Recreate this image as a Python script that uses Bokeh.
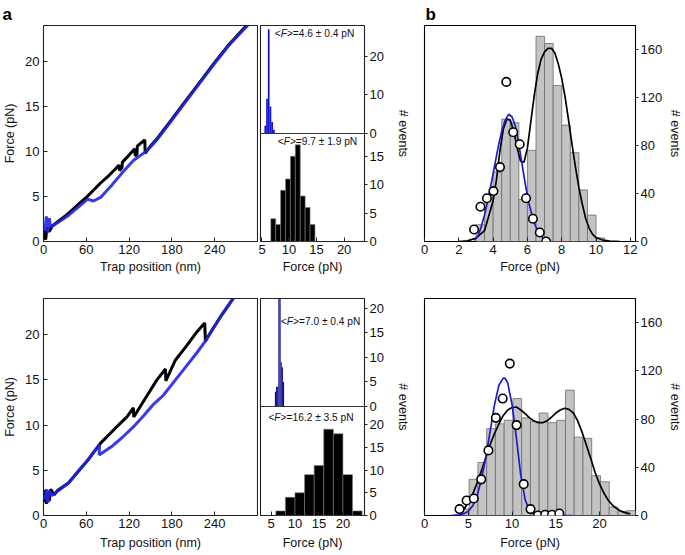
from bokeh.plotting import figure
from bokeh.layouts import row, column
from bokeh.models import Range1d, FixedTicker, Span, Label
from bokeh.embed import file_html
from bokeh.resources import INLINE

FONT = "Liberation Sans"

# ---------------- data ----------------
trace_xticks = [0, 60, 120, 180, 240]
trace_yticks = [0, 5, 10, 15, 20]

# top-row force-extension traces (trap position nm, force pN)
top_black_x = [0, 3, 5, 8, 12, 20, 30, 40, 50, 60, 70, 80, 90, 100, 106, 106.5, 110, 110.5, 120, 128, 128.5,
               131, 131.5, 142, 142.5, 150, 160, 180, 200, 220, 240, 260, 280, 292]
top_black_y = [1.3, 0.2, 1.6, 1.1, 1.7, 2.2, 2.8, 3.5, 4.2, 4.9, 5.7, 6.5, 7.2, 8.0, 8.5, 7.9, 8.2, 8.8, 9.6, 10.3, 9.5,
               9.7, 10.6, 11.3, 9.8, 10.6, 11.5, 13.6, 15.7, 17.8, 19.9, 21.9, 23.6, 24.6]
top_blue_x = [292, 280, 260, 240, 220, 200, 180, 160, 150, 142, 126, 110, 95, 80, 70, 62, 50, 35, 20, 10, 8, 6, 4, 2, 0]
top_blue_y = [24.5, 23.5, 21.8, 19.8, 17.7, 15.6, 13.5, 11.4, 10.5, 9.9, 9.0, 7.6, 6.2, 4.9, 4.5, 4.7, 3.9, 2.9, 2.1,
              1.6, 2.6, 1.0, 2.8, 1.2, 1.5]

# bottom-row force-extension traces
bot_black_x = [0, 2, 4, 6, 8, 10, 15, 20, 35, 50, 62, 80, 100, 117, 126, 126.5, 140, 159, 171, 171.5, 185, 200, 215,
               226, 227, 237, 250, 265, 272]
bot_black_y = [1.5, 2.8, 1.3, 2.6, 1.6, 2.9, 2.3, 2.8, 3.6, 5.0, 6.1, 8.0, 9.6, 10.9, 11.9, 10.9, 12.6, 15.0, 16.2,
               14.9, 17.2, 18.7, 20.3, 21.3, 19.3, 20.6, 22.2, 23.9, 24.6]
bot_blue_x = [272, 265, 250, 237, 228, 215, 200, 185, 168, 153, 140, 126, 110, 95, 78, 78.5, 70, 62, 50, 35, 20, 12,
              8, 6, 4, 2, 0]
bot_blue_y = [24.6, 23.9, 22.2, 20.6, 19.4, 18.0, 16.5, 15.0, 13.3, 12.2, 11.0, 9.8, 8.6, 7.6, 6.7, 7.8, 7.0, 6.1,
              5.0, 3.6, 2.7, 2.2, 2.8, 1.4, 2.9, 1.8, 2.2]

# small histograms of panel a
hist_xticks = [5, 10, 15, 20]
top_blue_edges = [3.8, 4.15, 4.5, 4.85, 5.2, 5.55, 5.9]
top_blue_counts = [2, 9, 27, 7, 3, 1]
top_blk_edges = [6.7, 7.59, 8.48, 9.37, 10.26, 11.15, 12.04, 12.93, 13.82, 14.71]
top_blk_counts = [4, 3, 9, 11, 15, 17, 8, 6, 3]
top_blk_ticks = [0, 5, 10, 15]
top_blue_ticks = [0, 10, 20]

bot_blue_edges = [5.8, 6.04, 6.28, 6.52, 6.76, 7.0, 7.24, 7.48, 7.72]
bot_blue_counts = [3, 4, 4, 22, 22, 9, 8, 5]
bot_blk_edges = [6, 8, 10, 12, 14, 16, 18, 20, 22, 24]
bot_blk_counts = [1, 4, 5, 9, 11, 19, 18, 9, 1]
bot_blk_ticks = [0, 5, 10, 15, 20]
bot_blue_ticks = [0, 5, 10, 15, 20]

# panel b
b_yticks = [0, 40, 80, 120, 160]
b_top_xticks = [0, 2, 4, 6, 8, 10, 12]
b_bot_xticks = [0, 5, 10, 15, 20]

b_top_edges = [3.0, 3.5, 4.0, 4.5, 5.0, 5.5, 6.0, 6.5, 7.0, 7.5, 8.0, 8.5, 9.0, 9.5, 10.0, 10.5]
b_top_counts = [14, 37, 58, 102, 99, 35, 76, 171, 165, 130, 97, 74, 43, 22, 3]
b_top_cx = [2.89, 3.26, 3.64, 4.02, 4.40, 4.77, 5.17, 5.55, 5.92, 6.32, 6.72, 7.09]
b_top_cy = [10, 29, 36, 42, 62, 133, 91, 81, 36, 19, 7.5, 0]
b_top_kx = [2.0, 2.5, 3.0, 3.5, 4.0, 4.2, 4.4, 4.6, 4.8, 5.0, 5.2, 5.4, 5.6, 5.8, 6.0, 6.2, 6.4, 6.6, 6.8, 7.0, 7.2,
            7.4, 7.6, 7.8, 8.0, 8.2, 8.4, 8.6, 8.8, 9.0, 9.2, 9.4, 9.6, 9.8, 10.0, 10.4, 10.8, 11.4]
b_top_ky = [0, 0.5, 2.8, 9, 34, 52, 76, 94, 102, 101, 92, 78, 67, 66, 78, 100, 122, 140, 152, 158, 161, 161, 157,
            148, 136, 120, 101, 81, 62, 45, 31, 19, 11, 6, 3.3, 1.2, 0.4, 0]
b_top_bx = [2.9, 3.1, 3.3, 3.5, 3.7, 3.9, 4.1, 4.3, 4.5, 4.7, 4.9, 5.1, 5.3, 5.5, 5.7, 5.9, 6.1, 6.3, 6.5, 6.7, 6.9, 7.1]
b_top_by = [1, 4, 12, 22, 35, 49, 64, 79, 92, 101, 106, 104, 96, 81, 63, 46, 31, 20, 12, 6.5, 3, 1]

b_bot_edges = [4.1, 5.1, 6.1, 7.1, 8.1, 9.1, 10.1, 11.1, 12.1, 13.1, 14.1, 15.1, 16.1, 17.1, 18.1, 19.1, 20.1, 21.1,
               22.1, 23.1, 24.1]
b_bot_counts = [5.5, 30, 44, 72, 76, 79, 97, 81, 78, 85, 77, 79, 104, 65, 64, 33, 28, 7, 3.5, 4]
b_bot_cx = [4.0, 4.81, 5.63, 6.48, 7.3, 8.15, 8.93, 9.74, 10.52, 11.33, 12.11, 12.96, 13.78, 14.56, 15.4]
b_bot_cy = [5.3, 12.5, 14.1, 30, 54, 81, 97, 126, 75, 26, 5.3, 0, 0.6, 0.6, 1.7]
b_bot_kx = [4.5, 5.0, 5.5, 6.0, 6.5, 7.0, 7.5, 8.0, 8.5, 9.0, 9.5, 10.0, 10.5, 11.0, 11.5, 12.0, 12.5, 13.0, 13.5,
            14.0, 14.5, 15.0, 15.5, 16.0, 16.5, 17.0, 17.5, 18.0, 18.5, 19.0, 19.5, 20.0, 20.5, 21.0, 21.5, 22.0,
            22.5, 23.0, 23.5]
b_bot_ky = [5, 11, 17.5, 27, 37, 48, 59, 68, 76, 83, 87.5, 89.5, 90, 87.5, 84.5, 81, 78.5, 77, 77, 78.5, 81.5, 85,
            87.5, 89, 88, 85, 78.5, 69, 58, 47, 35.5, 26, 18.5, 12.5, 8.3, 5.5, 3.4, 2.2, 1.4]
b_bot_bx = [3.0, 4.0, 4.5, 5.0, 5.5, 6.0, 6.5, 7.0, 7.5, 8.0, 8.5, 9.0, 9.2, 9.5, 10.0, 10.5, 11.0, 11.5, 12.0, 12.5,
            13.0, 14.0, 16.9]
b_bot_by = [0, 0.5, 1.5, 3.5, 8, 16, 30, 48, 70, 92, 108, 114, 114, 110, 92, 64, 33, 13, 4, 1, 0.3, 0, 0]

# ---------------- styling helpers ----------------
TRACE_BLUE = "#2424e6"
TICK_FS = "13px"
LABEL_FS = "12.5px"


def style_axis(ax, label, ticks, tick_in=0, tick_out=0, ls=3, als=4):
    ax.ticker = FixedTicker(ticks=ticks)
    ax.axis_label = label
    ax.axis_label_text_font = FONT
    ax.axis_label_text_font_size = LABEL_FS
    ax.axis_label_text_font_style = "normal"
    ax.axis_label_text_color = "#111111"
    ax.major_label_text_font = FONT
    ax.major_label_text_font_size = TICK_FS
    ax.major_label_text_color = "#111111"
    ax.major_tick_in = tick_in
    ax.major_tick_out = tick_out
    ax.major_tick_line_color = "#222222"
    ax.minor_tick_line_color = None
    ax.axis_line_color = None
    ax.major_label_standoff = ls
    ax.axis_label_standoff = als


def base_fig(width, height, xr, yr, left, right, top, bottom, yloc="left"):
    p = figure(width=width, height=height, x_range=Range1d(*xr), y_range=Range1d(*yr),
               output_backend="svg", toolbar_location=None, y_axis_location=yloc,
               min_border_left=left, min_border_right=right, min_border_top=top, min_border_bottom=bottom)
    p.grid.visible = False
    p.outline_line_color = "#222222"
    p.outline_line_width = 1.1
    return p


def set_letter(p, text, offset):
    p.title.text = text
    p.title.align = "left"
    p.title.offset = offset
    p.title.standoff = 4
    p.title.text_font = FONT
    p.title.text_font_size = "17px"
    p.title.text_font_style = "bold"
    p.title.text_color = "black"


def trace_fig(h, top, bottom, bx, by, ux, uy, als):
    p = base_fig(258, h, (0, 300), (0, 24), 42, 1, top, bottom)
    style_axis(p.xaxis[0], "Trap position (nm)", trace_xticks, tick_in=4, ls=3, als=als)
    style_axis(p.yaxis[0], "Force (pN)", trace_yticks, tick_in=4, ls=4, als=5)
    p.line(bx, by, line_color="black", line_width=3)
    p.line(ux, uy, line_color=TRACE_BLUE, line_width=3, line_alpha=0.9)
    return p


def f_label(p, x, y, rest, xname="default", yname="default", size=10.2):
    common = dict(x=x, y=y, x_range_name=xname, y_range_name=yname, text_font=FONT,
                  text_font_size=f"{size}px", text_baseline="middle", text_color="#111111")
    w1 = 0.584 * size
    w2 = 0.611 * size
    p.add_layout(Label(text="<", **common))
    p.add_layout(Label(text="F", x_offset=w1, text_font_style="italic", **common))
    p.add_layout(Label(text=">" + rest, x_offset=w1 + w2, **common))


def hist_fig(h, top, bottom, xr, bxr, black_max, blue_max, up_px, lo_px,
             ke, kc, ue, uc, ucolor, kticks, uticks, lab_up, lab_lo, als):
    fh = up_px + lo_px
    bk_end = black_max * fh / lo_px
    bl_start = -blue_max * lo_px / up_px
    p = base_fig(154, h, xr, (0, bk_end), 2, 44, top, bottom, yloc="right")
    p.extra_y_ranges = {"blue": Range1d(bl_start, blue_max)}
    p.extra_x_ranges = {"bx": Range1d(*bxr)}
    p.quad(left=ke[:-1], right=ke[1:], bottom=0, top=kc, fill_color="black",
           line_color="#7a7a7a", line_width=0.6)
    p.quad(left=ue[:-1], right=ue[1:], bottom=0, top=uc, fill_color=ucolor, line_color=None,
           x_range_name="bx", y_range_name="blue")
    p.add_layout(Span(location=black_max, dimension="width", line_color="#333333", line_width=1.1))
    ratio = bk_end / (blue_max - bl_start)
    upos = [round(black_max + v * ratio, 6) for v in uticks]
    style_axis(p.xaxis[0], "Force (pN)", hist_xticks, tick_in=4, ls=3, als=als)
    style_axis(p.yaxis[0], "# events", list(kticks) + upos, tick_out=3, ls=2, als=9)
    p.yaxis[0].major_label_overrides = {pos: str(v) for pos, v in zip(upos, uticks)}
    f_label(p, lab_up[0], lab_up[1], lab_up[2], xname="bx", yname="blue")
    f_label(p, lab_lo[0], lab_lo[1], lab_lo[2])
    return p


def b_fig(h, top, bottom, xr, xticks, edges, counts, kx, ky, ux, uy, cx, cy, als):
    p = base_fig(273, h, xr, (0, 180), 12, 44, top, bottom, yloc="right")
    p.outline_line_color = "black"
    p.quad(left=edges[:-1], right=edges[1:], bottom=0, top=counts, fill_color="#c3c3c3",
           line_color="#6c6c6c", line_width=0.8)
    p.line(kx, ky, line_color="black", line_width=1.7)
    p.line(ux, uy, line_color="#1c1cc8", line_width=1.7)
    p.scatter(cx, cy, size=8.5, fill_color="white", line_color="black", line_width=1.6)
    style_axis(p.xaxis[0], "Force (pN)", xticks, tick_in=4, ls=3, als=als)
    style_axis(p.yaxis[0], "# events", b_yticks, tick_out=3, ls=2, als=3)
    return p


# ---------------- build ----------------
t1 = trace_fig(276, 25, 35, top_black_x, top_black_y, top_blue_x, top_blue_y, 3)
t2 = trace_fig(279, 22, 40, bot_black_x, bot_black_y, bot_blue_x, bot_blue_y, 5)
set_letter(t1, "a", -41)

h1 = hist_fig(276, 25, 35, (4.83, 23.7), (3.0, 24.2), 19, 28, 108, 108,
              top_blk_edges, top_blk_counts, top_blue_edges, top_blue_counts, "#1212cc",
              top_blk_ticks, top_blue_ticks,
              (5.9, 25.9, "=4.6 \u00b1 0.4 pN"), (7.95, 17.6, "=9.7 \u00b1 1.9 pN"), 3)
h2 = hist_fig(279, 22, 40, (2.8, 24.5), (2.8, 24.5), 24, 22, 108, 109,
              bot_blk_edges, bot_blk_counts, bot_blue_edges, bot_blue_counts, "#0c0c92",
              bot_blk_ticks, bot_blue_ticks,
              (7.05, 17.3, "=7.0 \u00b1 0.4 pN"), (4.45, 21.5, "=16.2 \u00b1 3.5 pN"), 5)

b1 = b_fig(276, 25, 35, (0, 12.3), b_top_xticks, b_top_edges, b_top_counts,
           b_top_kx, b_top_ky, b_top_bx, b_top_by, b_top_cx, b_top_cy, 3)
b2 = b_fig(279, 22, 40, (0, 24.1), b_bot_xticks, b_bot_edges, b_bot_counts,
           b_bot_kx, b_bot_ky, b_bot_bx, b_bot_by, b_bot_cx, b_bot_cy, 5)
set_letter(b1, "b", 1)

layout = column(row(t1, h1, b1), row(t2, h2, b2))

open("out.html", "w").write(file_html(layout, INLINE))
